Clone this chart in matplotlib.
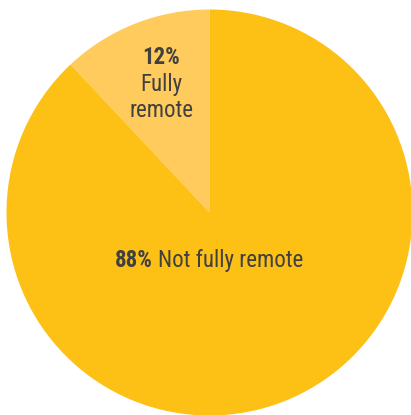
import matplotlib.pyplot as plt

# Data
labels = ['Fully remote', 'Not fully remote']
shares = [12, 88]
colors = ['#FECB5C', '#FDC015']

W, H = 411, 415
fig = plt.figure(figsize=(W / 100, H / 100), dpi=100)
ax = fig.add_axes([0, 0, 1, 1])

font = ['Roboto Condensed', 'DejaVu Sans']
txt = '#404040'

# Pie, clockwise from the top (y axis inverted, so counterclock=False draws ccw on screen)
ax.pie(shares, colors=colors, startangle=-90, counterclock=False,
       center=(209.5, 212.5), radius=203, frame=True,
       wedgeprops=dict(linewidth=0))
ax.set_xlim(0, W)
ax.set_ylim(H, 0)
ax.axis('off')

# Labels
ax.text(161, 57, f'{shares[0]}%', ha='center', va='center', fontsize=16.5,
        fontweight='bold', color=txt, family=font)
ax.text(161, 84, 'Fully', ha='center', va='center', fontsize=16.5,
        color=txt, family=font)
ax.text(161, 110, 'remote', ha='center', va='center', fontsize=16.5,
        color=txt, family=font)

ax.text(153, 260, f'{shares[1]}%', ha='right', va='center', fontsize=16.5,
        fontweight='bold', color=txt, family=font)
ax.text(158, 260, 'Not fully remote', ha='left', va='center', fontsize=16.5,
        color=txt, family=font)

fig.savefig('out.png', dpi=100, facecolor='white')
